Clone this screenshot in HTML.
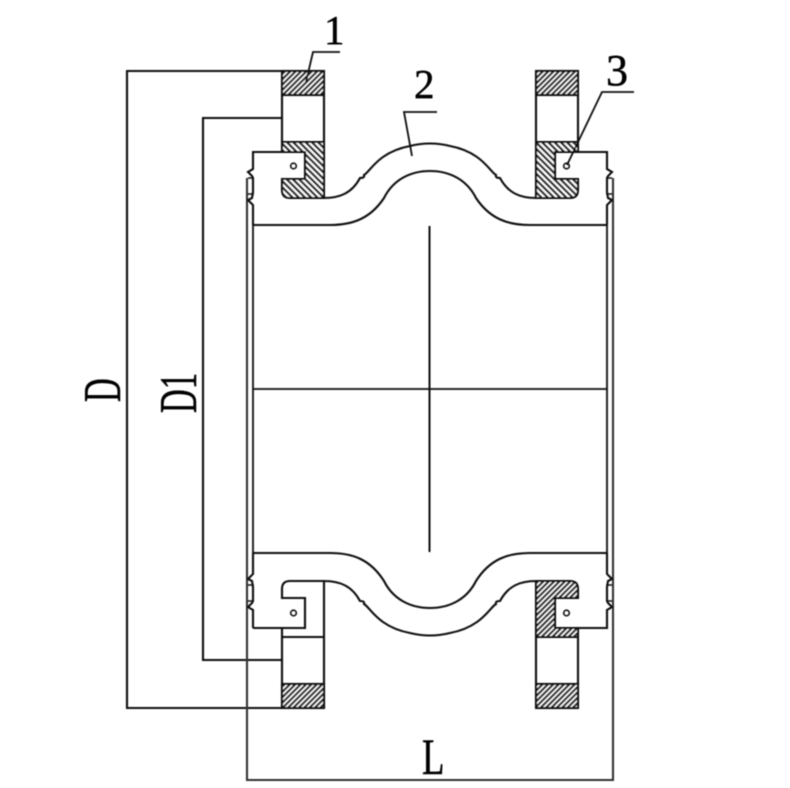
<!DOCTYPE html>
<html>
<head>
<meta charset="utf-8">
<style>
html,body{margin:0;padding:0;background:#fff}
svg{display:block}
text{font-family:"Liberation Serif",serif;fill:#000}
</style>
</head>
<body>
<svg width="790" height="788" viewBox="0 0 790 788" xmlns="http://www.w3.org/2000/svg">
<defs>
<pattern id="h1" width="3.800" height="3.800" patternUnits="userSpaceOnUse" patternTransform="rotate(45)">
<rect width="3.800" height="3.800" fill="#fff"/><rect width="2.200" height="3.800" fill="#222"/>
</pattern>
<pattern id="h2" width="4.400" height="4.400" patternUnits="userSpaceOnUse" patternTransform="rotate(-45)">
<rect width="4.400" height="4.400" fill="#fff"/><rect width="2.300" height="4.400" fill="#222"/>
</pattern>
<filter id="b" x="-5%" y="-5%" width="110%" height="110%"><feGaussianBlur stdDeviation="0.4"/></filter>
</defs>
<rect width="790" height="788" fill="#fff"/>
<g filter="url(#b)" fill="none" stroke="#111" stroke-width="2.100">
<!-- dimension lines -->
<path d="M282 71H127V708H282"/>
<path d="M282 118H203V660H282"/>
<path d="M247 178V780H613V178" stroke="#333"/>

<!-- top-left flange -->
<rect x="282" y="71" width="42" height="24" fill="url(#h1)"/>
<path d="M282 95V142M324 95V142"/>
<path d="M282 142H324V198H290Q282 198 282 190V179H305V152H282Z" fill="url(#h2)"/>

<!-- top-right flange -->
<rect x="536" y="71" width="42" height="24" fill="url(#h1)"/>
<path d="M536 95V142M578 95V142"/>
<path d="M578 142H536V198H570Q578 198 578 190V179H555V152H578Z" fill="url(#h2)"/>

<!-- bottom-left flange -->
<path d="M324 581V708M282 628V708M282 637H324"/>
<rect x="282" y="684" width="42" height="24" fill="url(#h1)"/>
<path d="M324 581H290Q282 581 282 589V598H305V628H253"/>

<!-- bottom-right flange -->
<rect x="536" y="684" width="42" height="24" fill="url(#h1)"/>
<path d="M536 637H578V628H555V598H578V589Q578 581 570 581H536Z" fill="url(#h1)"/>
<path d="M536 637V684M578 637V684"/>

<!-- inserts top -->
<path d="M282 152H253V169L248 172L252 176L253 178V192L252 198L248 200L253 205V225"/>
<path d="M578 152H607V169L612 172L608 176L607 178V192L608 198L612 200L607 205V225"/>
<path d="M248 178H253V194H248" stroke-width="1.600"/>
<path d="M612 178H607V194H612" stroke-width="1.600"/>

<!-- inserts bottom -->
<path d="M253 628V610L248 607L252 603L253 601V587L252 581L248 579L253 574V553"/>
<path d="M578 628H607V610L612 607L608 603L607 601V587L608 581L612 579L607 574V553"/>
<path d="M248 585H253V601H248" stroke-width="1.600"/>
<path d="M612 585H607V601H612" stroke-width="1.600"/>

<!-- body -->
<path d="M253 225V553M607 225V553" stroke-width="1.800"/>
<path d="M253 389H607" stroke-width="1.700"/>
<path d="M429.500 226V552" stroke-width="2"/>

<!-- top bellows -->
<path d="M324 198C340 198 352 193 360 178Q365 178 364 175C370 172 378 152 410 146Q430 141 450 146C482 152 490 172 496 175Q495 178 500 178C508 193 520 198 536 198"/>
<path d="M253 225H330C352 225 370 219 384 198C393 180 410 171 430 171C450 171 467 180 476 198C490 219 508 225 530 225H607"/>

<!-- bottom bellows -->
<path d="M324 581C340 581 352 586 360 601Q365 601 364 604C370 607 378 627 410 633Q430 638 450 633C482 627 490 607 496 604Q495 601 500 601C508 586 520 581 536 581"/>
<path d="M253 553H330C352 553 370 559 384 581C393 599 410 608 430 608C450 608 467 599 476 581C490 559 508 553 530 553H607"/>

<!-- small circles -->
<circle cx="293.500" cy="166" r="2.800" stroke-width="1.600"/>
<circle cx="566.500" cy="166" r="2.800" stroke-width="1.600"/>
<circle cx="293.500" cy="613" r="2.800" stroke-width="1.600"/>
<circle cx="566.500" cy="613" r="2.800" stroke-width="1.600"/>

<!-- leaders -->
<path d="M306 82L313 52H340" stroke-width="1.800"/>
<path d="M412 156L404 112H437" stroke-width="1.800"/>
<path d="M567 165L602 92H634" stroke-width="1.800"/>

<!-- labels -->
<g stroke="#000" stroke-width="0.500">
<text fill="#000" transform="translate(324 44)" font-size="41">1</text>
<text fill="#000" transform="translate(414 98)" font-size="41">2</text>
<text fill="#000" transform="translate(606 85)" font-size="44">3</text>
<text fill="#000" transform="translate(120 402) rotate(-90) scale(0.62 1)" font-size="53">D</text>
<text fill="#000" transform="translate(196 413) rotate(-90) scale(0.62 1)" font-size="53">D1</text>
<text fill="#000" transform="translate(422 774) scale(0.72 1)" font-size="51">L</text>
</g>
</g>
</svg>
</body>
</html>
